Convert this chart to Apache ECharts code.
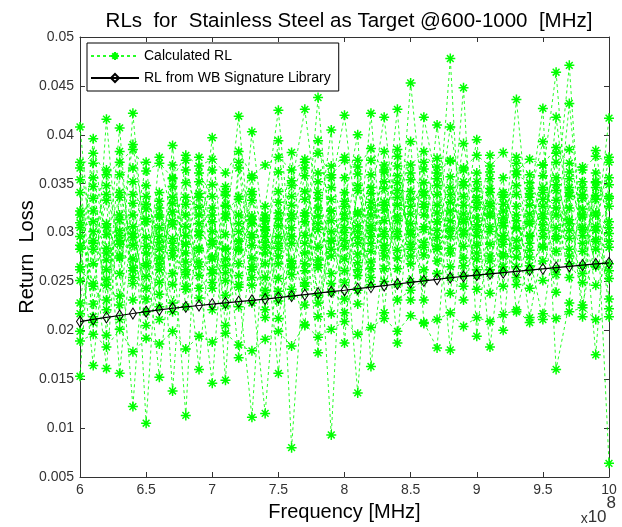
<!DOCTYPE html>
<html>
<head>
<meta charset="utf-8">
<script src="https://cdn.jsdelivr.net/npm/echarts@6/dist/echarts.min.js"></script>
<style>
html,body{margin:0;padding:0;background:#fff;}
#chart{width:622px;height:527px;}
</style>
</head>
<body>
<div id="chart"></div>
<script>
// Frequencies in MHz (axis shown in units of 1e8 Hz)
var freqs = [600,610,620,630,640,650,660,670,680,690,700,710,720,730,740,750,760,770,780,790,800,
             810,820,830,840,850,860,870,880,890,900,910,920,930,940,950,960,970,980,990,1000];

// RL from WB Signature Library
var rlLibrary = [0.02090,0.02112,0.02132,0.02152,0.02172,0.02192,0.02210,0.02226,0.02240,0.02254,
                 0.02268,0.02281,0.02294,0.02307,0.02320,0.02335,0.02350,0.02365,0.02380,0.02395,
                 0.02410,0.02426,0.02442,0.02458,0.02474,0.02490,0.02506,0.02522,0.02538,0.02551,
                 0.02564,0.02577,0.02590,0.02603,0.02616,0.02629,0.02642,0.02655,0.02667,0.02679,0.02690];

// Calculated RL: repeated sweeps, one row of 20 readings per frequency
var rlCalculated = [
  [0.0283,0.0408,0.0251,0.0322,0.0153,0.0296,0.0372,0.0228,0.0310,0.0265, 0.0262,0.0318,0.0199,0.0341,0.0287,0.0366,0.0305,0.0354,0.0217,0.0189],
  [0.0301,0.0268,0.0396,0.0214,0.0347,0.0164,0.0289,0.0322,0.0245,0.0356, 0.0248,0.0335,0.0292,0.0208,0.0371,0.0381,0.0311,0.0227,0.0283,0.0196],
  [0.0246,0.0333,0.0279,0.0416,0.0262,0.0305,0.0161,0.0364,0.0221,0.0298, 0.0309,0.0231,0.0348,0.0272,0.0195,0.0359,0.0284,0.0252,0.0339,0.0183],
  [0.0318,0.0156,0.0292,0.0258,0.0407,0.0235,0.0341,0.0276,0.0383,0.0302, 0.0274,0.0336,0.0211,0.0297,0.0359,0.0372,0.0313,0.0226,0.0288,0.0201],
  [0.0264,0.0299,0.0122,0.0352,0.0231,0.0422,0.0287,0.0318,0.0254,0.0390, 0.0330,0.0248,0.0306,0.0273,0.0366,0.0385,0.0295,0.0339,0.0261,0.0178],
  [0.0337,0.0243,0.0311,0.0105,0.0286,0.0268,0.0372,0.0219,0.0329,0.0295, 0.0255,0.0314,0.0232,0.0348,0.0279,0.0363,0.0205,0.0324,0.0266,0.0192],
  [0.0290,0.0377,0.0262,0.0316,0.0152,0.0341,0.0237,0.0305,0.0274,0.0224, 0.0318,0.0249,0.0332,0.0283,0.0211,0.0371,0.0268,0.0296,0.0325,0.0186],
  [0.0228,0.0312,0.0355,0.0276,0.0294,0.0138,0.0389,0.0258,0.0321,0.0347, 0.0289,0.0336,0.0247,0.0308,0.0369,0.0356,0.0219,0.0330,0.0282,0.0199],
  [0.0306,0.0262,0.0288,0.0374,0.0113,0.0329,0.0242,0.0351,0.0297,0.0270, 0.0245,0.0318,0.0336,0.0279,0.0257,0.0379,0.0364,0.0224,0.0288,0.0181],
  [0.0352,0.0282,0.0160,0.0301,0.0377,0.0256,0.0318,0.0233,0.0270,0.0336, 0.0297,0.0243,0.0326,0.0361,0.0265,0.0368,0.0309,0.0284,0.0340,0.0194],
  [0.0273,0.0397,0.0325,0.0243,0.0288,0.0146,0.0349,0.0311,0.0262,0.0301, 0.0318,0.0258,0.0292,0.0337,0.0221,0.0375,0.0275,0.0364,0.0249,0.0188],
  [0.0298,0.0236,0.0347,0.0315,0.0259,0.0327,0.0149,0.0283,0.0338,0.0225, 0.0266,0.0319,0.0284,0.0205,0.0342,0.0361,0.0251,0.0328,0.0273,0.0197],
  [0.0419,0.0291,0.0256,0.0172,0.0334,0.0282,0.0366,0.0244,0.0309,0.0372, 0.0283,0.0337,0.0224,0.0301,0.0268,0.0383,0.0247,0.0318,0.0291,0.0185],
  [0.0265,0.0339,0.0403,0.0287,0.0246,0.0313,0.0274,0.0111,0.0356,0.0298, 0.0317,0.0262,0.0342,0.0228,0.0295,0.0358,0.0254,0.0309,0.0333,0.0179],
  [0.0312,0.0254,0.0290,0.0327,0.0115,0.0302,0.0241,0.0318,0.0279,0.0213, 0.0268,0.0303,0.0236,0.0285,0.0314,0.0369,0.0296,0.0221,0.0306,0.0191],
  [0.0230,0.0307,0.0362,0.0425,0.0284,0.0156,0.0331,0.0268,0.0394,0.0289, 0.0320,0.0253,0.0342,0.0296,0.0212,0.0377,0.0276,0.0314,0.0240,0.0199],
  [0.0296,0.0348,0.0080,0.0271,0.0382,0.0314,0.0257,0.0328,0.0242,0.0305, 0.0268,0.0319,0.0235,0.0353,0.0289,0.0364,0.0337,0.0296,0.0264,0.0184],
  [0.0358,0.0426,0.0279,0.0311,0.0245,0.0366,0.0205,0.0297,0.0334,0.0268, 0.0249,0.0317,0.0289,0.0342,0.0226,0.0372,0.0375,0.0261,0.0320,0.0206],
  [0.0285,0.0317,0.0438,0.0177,0.0303,0.0264,0.0352,0.0394,0.0236,0.0325, 0.0341,0.0267,0.0309,0.0228,0.0361,0.0381,0.0272,0.0335,0.0214,0.0193],
  [0.0322,0.0093,0.0276,0.0346,0.0405,0.0291,0.0239,0.0312,0.0368,0.0258, 0.0283,0.0334,0.0217,0.0301,0.0356,0.0359,0.0322,0.0248,0.0292,0.0201],
  [0.0261,0.0356,0.0300,0.0420,0.0187,0.0332,0.0286,0.0249,0.0377,0.0314, 0.0327,0.0273,0.0341,0.0232,0.0305,0.0374,0.0292,0.0218,0.0319,0.0209],
  [0.0343,0.0278,0.0136,0.0301,0.0360,0.0400,0.0262,0.0319,0.0227,0.0295, 0.0269,0.0321,0.0289,0.0348,0.0241,0.0367,0.0374,0.0256,0.0307,0.0196],
  [0.0296,0.0422,0.0331,0.0254,0.0289,0.0163,0.0374,0.0307,0.0346,0.0270, 0.0318,0.0247,0.0359,0.0281,0.0325,0.0386,0.0302,0.0340,0.0263,0.0203],
  [0.0364,0.0250,0.0418,0.0328,0.0301,0.0282,0.0218,0.0345,0.0296,0.0383, 0.0276,0.0331,0.0263,0.0352,0.0312,0.0362,0.0369,0.0287,0.0323,0.0212],
  [0.0274,0.0336,0.0296,0.0187,0.0426,0.0312,0.0358,0.0263,0.0385,0.0301, 0.0343,0.0282,0.0317,0.0247,0.0368,0.0378,0.0328,0.0231,0.0351,0.0199],
  [0.0453,0.0302,0.0268,0.0354,0.0231,0.0393,0.0288,0.0327,0.0276,0.0342, 0.0298,0.0361,0.0250,0.0319,0.0283,0.0369,0.0309,0.0241,0.0334,0.0215],
  [0.0318,0.0285,0.0372,0.0262,0.0418,0.0208,0.0306,0.0351,0.0290,0.0329, 0.0277,0.0342,0.0303,0.0231,0.0365,0.0383,0.0326,0.0252,0.0338,0.0207],
  [0.0271,0.0410,0.0320,0.0295,0.0348,0.0182,0.0367,0.0258,0.0311,0.0283, 0.0339,0.0258,0.0302,0.0376,0.0286,0.0361,0.0328,0.0311,0.0355,0.0211],
  [0.0339,0.0296,0.0180,0.0478,0.0284,0.0357,0.0265,0.0322,0.0408,0.0304, 0.0279,0.0346,0.0238,0.0312,0.0373,0.0374,0.0254,0.0331,0.0302,0.0218],
  [0.0298,0.0364,0.0311,0.0231,0.0448,0.0286,0.0337,0.0274,0.0319,0.0391, 0.0328,0.0256,0.0348,0.0302,0.0266,0.0366,0.0245,0.0313,0.0352,0.0204],
  [0.0352,0.0273,0.0395,0.0308,0.0194,0.0326,0.0287,0.0361,0.0262,0.0315, 0.0297,0.0345,0.0242,0.0331,0.0279,0.0379,0.0303,0.0256,0.0336,0.0213],
  [0.0288,0.0330,0.0262,0.0379,0.0317,0.0183,0.0345,0.0301,0.0355,0.0276, 0.0341,0.0271,0.0306,0.0238,0.0362,0.0368,0.0327,0.0258,0.0319,0.0209],
  [0.0315,0.0278,0.0341,0.0200,0.0356,0.0297,0.0265,0.0329,0.0288,0.0310, 0.0261,0.0336,0.0293,0.0322,0.0245,0.0382,0.0307,0.0276,0.0339,0.0216],
  [0.0265,0.0436,0.0304,0.0339,0.0219,0.0377,0.0292,0.0318,0.0254,0.0348, 0.0312,0.0284,0.0359,0.0247,0.0327,0.0363,0.0371,0.0275,0.0305,0.0221],
  [0.0340,0.0296,0.0213,0.0328,0.0275,0.0359,0.0311,0.0262,0.0336,0.0289, 0.0266,0.0319,0.0351,0.0297,0.0243,0.0375,0.0282,0.0345,0.0309,0.0208],
  [0.0302,0.0358,0.0285,0.0427,0.0211,0.0314,0.0346,0.0271,0.0393,0.0327, 0.0286,0.0334,0.0251,0.0369,0.0308,0.0369,0.0341,0.0296,0.0319,0.0217],
  [0.0281,0.0464,0.0333,0.0160,0.0305,0.0372,0.0294,0.0418,0.0262,0.0349, 0.0318,0.0257,0.0343,0.0296,0.0381,0.0387,0.0325,0.0239,0.0356,0.0212],
  [0.0362,0.0294,0.0471,0.0228,0.0337,0.0283,0.0432,0.0309,0.0355,0.0276, 0.0313,0.0346,0.0268,0.0325,0.0385,0.0371,0.0254,0.0341,0.0302,0.0219],
  [0.0297,0.0335,0.0266,0.0367,0.0214,0.0318,0.0289,0.0346,0.0305,0.0258, 0.0281,0.0324,0.0249,0.0352,0.0303,0.0364,0.0339,0.0226,0.0316,0.0223],
  [0.0320,0.0175,0.0351,0.0293,0.0384,0.0267,0.0334,0.0302,0.0246,0.0361, 0.0306,0.0265,0.0338,0.0283,0.0352,0.0378,0.0318,0.0291,0.0346,0.0211],
  [0.0285,0.0356,0.0064,0.0417,0.0299,0.0335,0.0222,0.0377,0.0268,0.0311, 0.0327,0.0261,0.0349,0.0291,0.0232,0.0372,0.0305,0.0253,0.0337,0.0214]
];

var xTickLabels = ['6','6.5','7','7.5','8','8.5','9','9.5','10'];
var yTickLabels = ['0.005','0.01','0.015','0.02','0.025','0.03','0.035','0.04','0.045','0.05'];

var FONT = '"Liberation Sans", Arial, sans-serif';
var AXC = '#333333';
var GREEN = '#00ff00';
var starPath = 'path://M5,0L5,10M0,5L10,5M1.6,1.6L8.4,8.4M1.6,8.4L8.4,1.6';

var series = [];
var nSweeps = rlCalculated[0].length;
for (var k = 0; k < nSweeps; k++) {
  series.push({
    name: 'Calculated RL',
    type: 'line',
    data: freqs.map(function (f, i) { return [f, rlCalculated[i][k]]; }),
    symbol: starPath,
    symbolSize: 10,
    showSymbol: true,
    itemStyle: { color: GREEN, borderColor: GREEN, borderWidth: 1.5 },
    lineStyle: { color: GREEN, width: 1, type: [3, 3], opacity: 0.85 },
    z: 2,
    silent: true
  });
}
series.push({
  name: 'RL from WB Signature Library',
  type: 'line',
  data: freqs.map(function (f, i) { return [f, rlLibrary[i]]; }),
  symbol: 'diamond',
  symbolSize: [7, 11],
  itemStyle: { color: 'rgba(0,0,0,0)', borderColor: '#000', borderWidth: 1 },
  lineStyle: { color: '#000', width: 1.2 },
  z: 5,
  silent: true
});

var xLabelFmt = function (v) {
  var idx = Math.round((v - 600) / 50);
  return xTickLabels[idx] !== undefined ? xTickLabels[idx] : '';
};
var yLabelFmt = function (v) {
  var idx = Math.round(v / 0.005) - 1;
  return yTickLabels[idx] !== undefined ? yTickLabels[idx] : '';
};

var axisCommon = {
  axisLine: { show: true, onZero: false, lineStyle: { color: AXC, width: 1 } },
  axisTick: { show: true, inside: true, length: 5, lineStyle: { color: AXC } },
  splitLine: { show: false }
};

var chart = echarts.init(document.getElementById('chart'), null, { renderer: 'canvas' });
chart.setOption({
  animation: false,
  backgroundColor: '#ffffff',
  title: {
    text: 'RLs  for  Stainless Steel as Target @600-1000  [MHz]',
    left: 344, top: 6, textAlign: 'center',
    textStyle: { fontFamily: FONT, fontSize: 20.5, fontWeight: 'normal', color: '#000' }
  },
  grid: { left: 80, right: 13, top: 37, bottom: 50, containLabel: false },
  legend: {
    data: ['Calculated RL', 'RL from WB Signature Library'],
    orient: 'vertical',
    left: 87, top: 43,
    width: 253,
    padding: [6, 8, 6, 3],
    itemGap: 8,
    itemWidth: 48,
    itemHeight: 10,
    backgroundColor: '#fff',
    borderColor: '#000',
    borderWidth: 1,
    textStyle: { fontFamily: FONT, fontSize: 14, color: '#000', width: 200 },
    selectedMode: false
  },
  xAxis: [
    Object.assign({
      type: 'value', min: 600, max: 1000, interval: 50, position: 'bottom',
      name: 'Frequency [MHz]', nameLocation: 'middle', nameGap: 25, nameMoveOverlap: false,
      nameTextStyle: { fontFamily: FONT, fontSize: 20, color: '#000' },
      axisLabel: { formatter: xLabelFmt, fontFamily: FONT, fontSize: 14, color: AXC, margin: 6 }
    }, axisCommon),
    Object.assign({
      type: 'value', min: 600, max: 1000, interval: 50, position: 'top',
      axisLabel: { show: false }
    }, axisCommon)
  ],
  yAxis: [
    Object.assign({
      type: 'value', min: 0.005, max: 0.05, interval: 0.005, position: 'left',
      name: 'Return  Loss', nameLocation: 'middle', nameGap: 43, nameMoveOverlap: false,
      nameTextStyle: { fontFamily: FONT, fontSize: 20, color: '#000' },
      axisLabel: { formatter: yLabelFmt, fontFamily: FONT, fontSize: 14, color: AXC, margin: 6 }
    }, axisCommon),
    Object.assign({
      type: 'value', min: 0.005, max: 0.05, interval: 0.005, position: 'right',
      axisLabel: { show: false }
    }, axisCommon)
  ],
  graphic: [{
    type: 'text',
    right: 6, bottom: 1,
    style: {
      text: '{x|x}{t|10}{e|8}',
      rich: {
        x: { fontFamily: FONT, fontSize: 14, fill: AXC, verticalAlign: 'bottom' },
        t: { fontFamily: FONT, fontSize: 17, fill: AXC, verticalAlign: 'bottom' },
        e: { fontFamily: FONT, fontSize: 17, fill: AXC, verticalAlign: 'top', padding: [0, 0, 14, 0] }
      }
    }
  }],
  series: series
});
</script>
</body>
</html>
